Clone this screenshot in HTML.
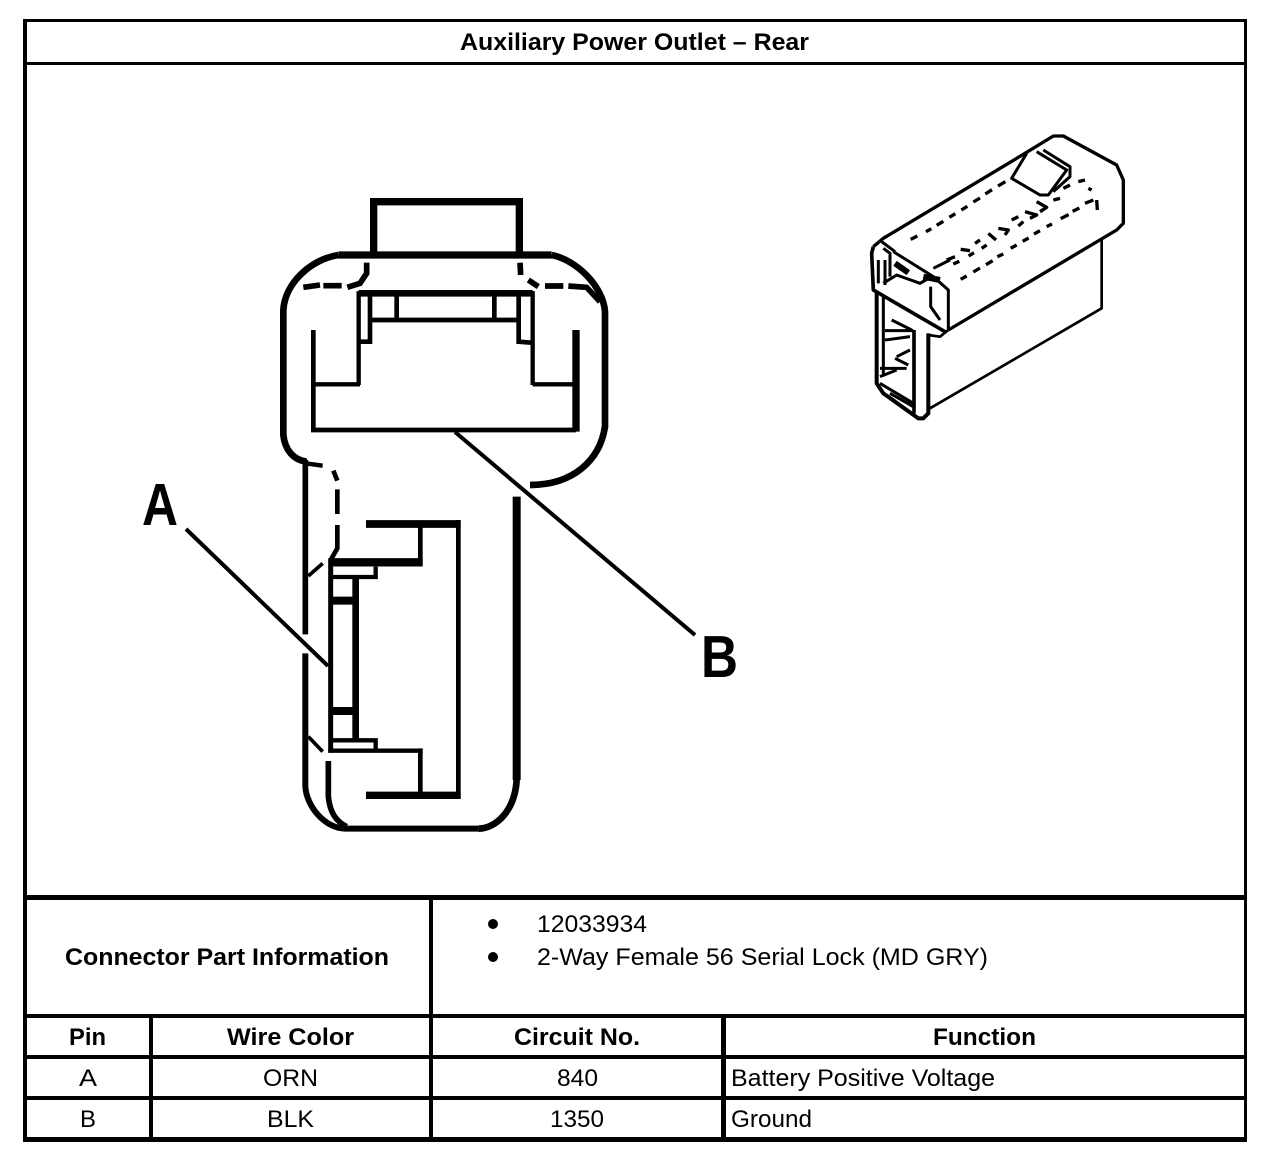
<!DOCTYPE html>
<html>
<head>
<meta charset="utf-8">
<title>Auxiliary Power Outlet – Rear</title>
<style>
html,body{margin:0;padding:0;background:#fff;}
svg{display:block;}
text{font-family:"Liberation Sans",Arial,sans-serif;fill:#000;font-size:24px;}
.b{font-weight:bold;}
</style>
</head>
<body>
<svg width="1280" height="1158" viewBox="0 0 1280 1158" xmlns="http://www.w3.org/2000/svg">
<rect width="1280" height="1158" fill="#fff"/>
<!-- table lines -->
<g fill="#000" shape-rendering="crispEdges">
<rect x="23" y="19" width="1224" height="3"/>
<rect x="23" y="62" width="1224" height="3"/>
<rect x="23" y="895" width="1224" height="5"/>
<rect x="23" y="1014" width="1224" height="4"/>
<rect x="23" y="1055" width="1224" height="4"/>
<rect x="23" y="1096" width="1224" height="4"/>
<rect x="23" y="1137" width="1224" height="5"/>
<rect x="23" y="19" width="4" height="1123"/>
<rect x="1244" y="19" width="3" height="1123"/>
<rect x="149" y="1014" width="4" height="128"/>
<rect x="429" y="895" width="4" height="247"/>
<rect x="721" y="1014" width="5" height="128"/>
</g>
<!-- table text -->
<text class="b" x="460" y="50" textLength="349" lengthAdjust="spacingAndGlyphs">Auxiliary Power Outlet – Rear</text>
<text class="b" x="65" y="965" textLength="324" lengthAdjust="spacingAndGlyphs">Connector Part Information</text>
<circle cx="493" cy="924" r="5" fill="#000"/>
<circle cx="493" cy="957" r="5" fill="#000"/>
<text x="537" y="932" textLength="110" lengthAdjust="spacingAndGlyphs">12033934</text>
<text x="537" y="965" textLength="451" lengthAdjust="spacingAndGlyphs">2-Way Female 56 Serial Lock (MD GRY)</text>
<text class="b" x="69" y="1045" textLength="37" lengthAdjust="spacingAndGlyphs">Pin</text>
<text class="b" x="227" y="1045" textLength="127" lengthAdjust="spacingAndGlyphs">Wire Color</text>
<text class="b" x="514" y="1045" textLength="126" lengthAdjust="spacingAndGlyphs">Circuit No.</text>
<text class="b" x="933" y="1045" textLength="103" lengthAdjust="spacingAndGlyphs">Function</text>
<text x="79" y="1086" textLength="18" lengthAdjust="spacingAndGlyphs">A</text>
<text x="263" y="1086" textLength="55" lengthAdjust="spacingAndGlyphs">ORN</text>
<text x="557" y="1086" textLength="41" lengthAdjust="spacingAndGlyphs">840</text>
<text x="731" y="1086" textLength="264" lengthAdjust="spacingAndGlyphs">Battery Positive Voltage</text>
<text x="80" y="1127" textLength="16" lengthAdjust="spacingAndGlyphs">B</text>
<text x="267" y="1127" textLength="47" lengthAdjust="spacingAndGlyphs">BLK</text>
<text x="550" y="1127" textLength="54" lengthAdjust="spacingAndGlyphs">1350</text>
<text x="731" y="1127" textLength="81" lengthAdjust="spacingAndGlyphs">Ground</text>

<!-- callouts -->
<text class="b" x="142" y="525" style="font-size:59px" textLength="36" lengthAdjust="spacingAndGlyphs">A</text>
<text class="b" x="701" y="677" style="font-size:59px" textLength="37" lengthAdjust="spacingAndGlyphs">B</text>
<path d="M186,529 L328,666 M455,432 L695,635" fill="none" stroke="#000" stroke-width="4"/>

<!-- head of the connector (zoom coords) -->
<g transform="translate(270,190) scale(.33333)" fill="none" stroke="#000" stroke-linejoin="miter">
<path d="M311,190 L311,35 L748,35 L748,190" stroke-width="22"/>
<path d="M205,195 L845,195" stroke-width="22"/>
<path d="M205,195 C120,210 45,280 40,360 L40,735 C45,780 70,810 110,815" stroke-width="20"/>
<path d="M845,195 C920,210 1000,290 1005,365 L1005,710 C990,810 910,885 780,885" stroke-width="20"/>
<path d="M100,292 L150,285 M160,287 L215,287 M232,292 L270,280 L290,250 L290,218 M750,218 L752,255 M775,270 L805,290 M825,288 L880,288 M895,288 L950,292 L990,335" stroke-width="17"/>
<path d="M266,585 L266,310 L788,310 L788,585" stroke-width="13"/>
<path d="M266,310 L788,310" stroke-width="20"/>
<path d="M130,420 L130,720 L918,720" stroke-width="14"/>
<path d="M918,420 L918,725" stroke-width="22"/>
<path d="M130,583 L270,583 M788,583 L918,583" stroke-width="13"/>
<path d="M300,310 L300,455 L270,455 M746,310 L746,455 L785,458" stroke-width="14"/>
<path d="M300,390 L746,390 M380,310 L380,390 M673,310 L673,390" stroke-width="14"/>
</g>

<!-- stem of the connector (zoom coords) -->
<g transform="translate(130,450) scale(.33333)" fill="none" stroke="#000" stroke-linejoin="miter">
<path d="M526,30 L526,553" stroke-width="17"/>
<path d="M526,40 L578,47" stroke-width="13"/>
<path d="M578,340 L535,378 M535,860 L578,905" stroke-width="11"/>
<path d="M526,610 L526,1010 C530,1070 585,1135 645,1136 L1045,1136" stroke-width="18"/>
<path d="M1045,1136 C1100,1135 1155,1080 1160,990" stroke-width="20"/>
<path d="M1160,140 L1160,990" stroke-width="24"/>
<path d="M610,62 L622,92 M622,118 L622,192 M622,225 L622,295 L602,330" stroke-width="14"/>
<path d="M595,933 L595,1040 C600,1090 620,1115 650,1130" stroke-width="17"/>
<path d="M708,222 L992,222" stroke-width="23"/>
<path d="M871,222 L871,345" stroke-width="14"/>
<path d="M600,337 L878,337" stroke-width="25"/>
<path d="M985,210 L985,1045" stroke-width="14"/>
<path d="M708,1036 L992,1036" stroke-width="22"/>
<path d="M871,895 L871,1030" stroke-width="14"/>
<path d="M595,902 L878,902" stroke-width="13"/>
<path d="M602,325 L602,908" stroke-width="15"/>
<path d="M677,385 L677,865" stroke-width="20"/>
<path d="M600,381 L737,381 L737,350" stroke-width="13"/>
<path d="M600,871 L737,871 L737,900" stroke-width="13"/>
<path d="M600,452 L680,452 M600,783 L680,783" stroke-width="24"/>
</g>

<!-- isometric view (zoom coords) -->
<g transform="translate(840,120) scale(.33333)" fill="none" stroke="#000" stroke-linejoin="round">
<path d="M100,380 L130,355 L555,100 L640,48 L670,48 L830,135 L850,180 L850,310 L830,330 L325,630" stroke-width="10"/>
<path d="M100,380 L95,400 L100,510 L315,635" stroke-width="11"/>
<path d="M785,360 L785,565 L270,865" stroke-width="8"/>
<path d="M265,645 L300,650 L325,630" stroke-width="8"/>
<path d="M110,515 L110,790 L130,820 L235,895 L250,895 L265,880 L265,640" stroke-width="12"/>
<path d="M222,630 L222,880" stroke-width="11"/>
<!-- cap end -->
<path d="M115,420 L115,490 M135,420 L135,495 M130,385 L150,400 L150,470 M160,395 L280,470 L325,510 L325,630" stroke-width="9"/>
<path d="M130,490 L170,465 L240,490 L275,470 M280,445 L330,420 M272,500 L272,560 L300,600 M125,365 L165,395" stroke-width="9"/>
<path d="M165,430 L205,458 M250,470 L300,480" stroke-width="18"/>
<!-- window -->
<path d="M560,100 L515,175 L600,225 L625,225 L680,150 L590,95 M610,90 L690,140 L690,170 L640,215" stroke-width="9"/>
<!-- front -->
<path d="M130,530 L130,770 M155,600 L215,630 M135,632 L220,632 M135,660 L210,650 M170,710 L210,690 M165,715 L205,735 M120,745 L200,745 M120,770 L170,750 M120,790 L220,850 M150,820 L220,860" stroke-width="9"/>
<!-- dashes -->
<path d="M212,358 L232,348 M258,335 L274,326 M290,316 L310,304 M328,292 L346,281 M364,270 L382,259 M400,246 L420,234 M436,222 L456,209 M474,198 L496,185" stroke-width="10"/>
<path d="M320,420 L345,410 M340,432 L358,424 M362,388 L390,392 M386,408 L402,398 M405,370 L420,360 M425,385 L440,375 M445,340 L468,360 M475,325 L505,330 L495,345 M515,300 L535,290 M535,318 L550,305 M555,275 L590,285 L570,295 M590,245 L620,262 L600,275 M640,240 L660,235 M670,205 L690,195 M715,185 L735,180 M745,205 L755,210 M735,250 L760,240 M770,240 L772,270" stroke-width="10"/>
<path d="M362,478 L380,468 M400,456 L420,444 M438,434 L458,422 M472,410 L490,402 M512,385 L530,375 M548,364 L566,354 M582,342 L600,332 M620,320 L636,312 M662,296 L686,284 M698,274 L718,264" stroke-width="10"/>
</g>
</svg>
</body>
</html>
